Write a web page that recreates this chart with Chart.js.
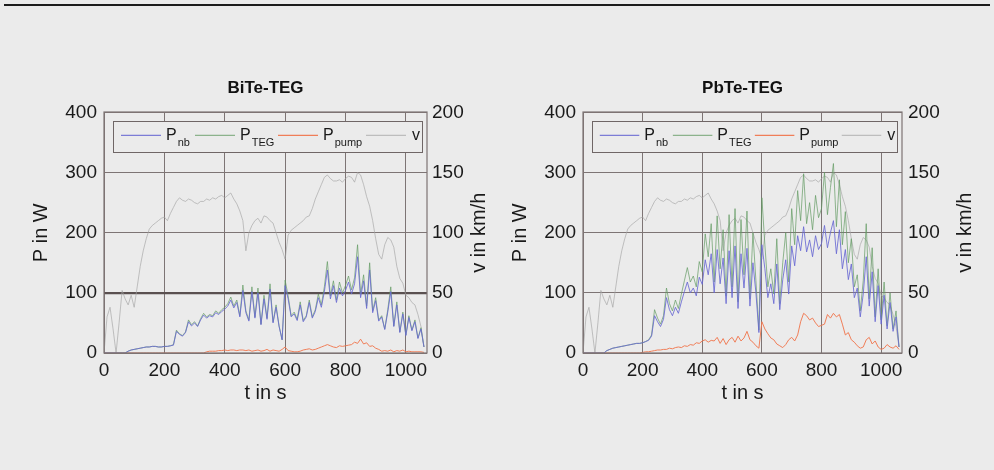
<!DOCTYPE html>
<html>
<head>
<meta charset="utf-8">
<script src="https://cdn.jsdelivr.net/npm/chart.js@4.4.0/dist/chart.umd.min.js"></script>
<style>
  body { margin: 0; background: #ebebeb; }
  #page { position: relative; width: 994px; height: 470px; background: #ebebeb; overflow: hidden; }
  #topline { position: absolute; left: 4px; top: 4px; width: 986px; height: 2px; background: #1c1c1c; }
  canvas { position: absolute; top: 0; }
</style>
</head>
<body>
<div id="page">
  <div id="topline"></div>
  <canvas id="chartBiTe" width="497" height="420" style="left:0px"></canvas>
  <canvas id="chartPbTe" width="497" height="420" style="left:479px"></canvas>
</div>
<script>
// time axis, every 10 s from 0 to 1060 s
const time = [];
for (let s = 0; s <= 1060; s += 10) time.push(s);

// vehicle speed in km/h (same drive cycle for both charts)
const speed = [
  0, 30, 38, 20, 0, 25, 52, 45,
  40, 48, 38, 55, 72, 85, 95, 103, 106, 108, 110, 112, 113, 110, 116, 121,
  126, 129, 127, 126, 128, 127, 125, 124, 126, 126, 128, 127, 129, 128, 130, 131, 129,
  131, 133, 128, 124, 118, 110, 85, 100, 106, 110, 112, 108, 114, 113, 110, 108, 100, 92, 86, 78,
  98, 102, 104, 106, 108, 110, 113, 114, 120, 128, 134, 140, 146, 148, 145, 143, 143, 144, 142, 145,
  147, 146, 142, 150, 148, 140, 130, 122, 110, 95, 82, 78, 90, 96, 94, 88, 72, 62, 58, 48,
  46, 42, 40, 32, 22, 5
];

// BiTe-TEG power in W
const bitePnb = [
  0, 0, 0, 0, 0, 0, 0, 0,
  3, 5, 6, 7, 8, 9, 10, 10, 11, 11, 10, 10, 11, 11, 12, 13,
  36, 31, 28, 34, 52, 45, 50, 44, 55, 63, 58, 62, 60, 67, 64, 69, 73,
  78, 88, 75, 84, 60, 104, 67, 53, 102, 58, 100, 47, 90, 56, 106, 50, 76, 44, 22, 112,
  90, 60, 65, 54, 80, 52, 60, 84, 58, 69, 92, 76, 102, 138, 90, 112, 84, 108, 95, 104,
  118, 98, 115, 160, 92, 120, 74, 138, 67, 87, 53, 60, 39, 68, 102, 44, 80, 34, 65, 29,
  59, 37, 52, 24, 40, 10
];
const bitePteg = [
  0, 0, 0, 0, 0, 0, 0, 0,
  3, 5, 6, 7, 8, 9, 10, 10, 11, 11, 10, 10, 11, 11, 12, 14,
  38, 32, 29, 35, 55, 47, 52, 45, 57, 66, 60, 64, 62, 70, 66, 72, 76,
  82, 93, 78, 88, 62, 113, 70, 55, 110, 60, 108, 48, 96, 58, 115, 52, 80, 45, 22, 121,
  95, 62, 68, 56, 85, 54, 62, 88, 60, 72, 98, 80, 110, 152, 95, 120, 88, 118, 100, 112,
  128, 105, 125, 180, 98, 130, 78, 150, 70, 92, 55, 62, 40, 72, 110, 45, 85, 35, 68, 30,
  62, 38, 55, 25, 42, 10
];
const bitePpump = [
  0, 0, 0, 0, 0, 0, 0, 0, 0, 0, 0, 0, 0, 0, 0, 0, 0,
  0, 0, 0, 0, 0, 0, 0, 0, 0, 0, 0, 0, 0, 0, 0, 0, 0,
  2, 3, 3, 3, 4, 4, 5, 4, 5, 5, 4, 5, 5, 4, 5, 3, 4, 5, 3, 4, 6, 3, 5, 4, 3, 6, 10,
  4, 3, 2, 2, 3, 5, 6, 7, 5, 6, 8, 10, 12, 14, 12, 10, 9, 12, 11, 12,
  13, 14, 18, 16, 23, 15, 17, 11, 12, 8, 6, 3, 4, 3, 5, 2, 4, 3, 5, 2,
  3, 2, 2, 2, 2, 1
];

// PbTe-TEG power in W
const pbtePnb = [
  0, 0, 0, 0, 0, 0, 0, 0,
  4, 6, 8, 9, 10, 11, 12, 13, 14, 15, 16, 16, 17, 19, 21, 28,
  62, 52, 44, 56, 92, 72, 62, 76, 66, 85, 102, 118, 100, 108, 95, 126, 114,
  155, 130, 165, 100, 172, 115, 158, 82, 170, 92, 178, 74, 165, 108, 174, 78, 150, 100, 34, 180,
  140, 92, 115, 82, 148, 72, 122, 155, 98, 178, 145, 195, 170, 210, 168, 188, 160, 195, 172, 182,
  212, 175, 200, 220, 165, 205, 140, 172, 122, 148, 92, 108, 60, 98, 160, 78, 135, 52, 112, 48,
  96, 40, 84, 36, 60, 10
];
const pbtePteg = [
  0, 0, 0, 0, 0, 0, 0, 0,
  4, 6, 8, 9, 10, 11, 12, 13, 14, 15, 16, 16, 17, 19, 22, 30,
  72, 58, 48, 62, 108, 82, 70, 88, 74, 98, 120, 142, 118, 128, 110, 152, 135,
  198, 160, 215, 118, 228, 140, 205, 95, 230, 110, 240, 85, 222, 130, 236, 90, 200, 120, 38, 258,
  180, 110, 140, 98, 190, 82, 150, 200, 118, 240, 180, 270, 220, 298, 215, 250, 205, 262, 225, 240,
  300, 230, 275, 315, 210, 288, 180, 235, 150, 190, 110, 130, 70, 120, 215, 90, 175, 60, 140, 55,
  118, 45, 100, 40, 70, 10
];
const pbtePpump = [
  0, 0, 0, 0, 0, 0, 0, 0, 0, 0, 0, 0, 0, 0, 0, 0, 0, 0, 0, 0,
  1, 2, 2, 3, 4, 5, 5, 6, 6, 8, 7, 9, 10, 9, 12, 11, 14, 13, 17, 16, 20,
  22, 18, 21, 20, 26, 16, 24, 14, 22, 26, 18, 28, 20, 25, 36, 22, 18, 12, 8, 52,
  40, 32, 25, 22, 15, 12, 9, 14, 22, 26, 20, 30, 52, 66, 62, 55, 58, 50, 44, 46,
  48, 64, 58, 66, 60, 64, 48, 30, 34, 22, 18, 12, 8, 10, 22, 26, 15, 20, 10, 6,
  8, 14, 10, 8, 12, 6
];

const powerTicks = [0, 100, 200, 300, 400];
const speedTicks = [0, 50, 100, 150, 200];
const legendMain = ['P', 'P', 'P', 'v'];
const legendSub = ['nb', 'TEG', 'pump', ''];

const FONT = '"Liberation Sans", Arial, Helvetica, sans-serif';
const GRID = '#7d7474';
const colNb = 'rgba(105,105,210,0.85)';
const colTeg = 'rgba(100,155,100,0.7)';
const colPump = 'rgba(240,120,80,0.95)';
const colV = 'rgba(165,165,165,0.65)';

function toPoints(values) {
  return values.map((v, i) => ({ x: time[i], y: v }));
}

// frame, legend with subscripts and the right axis title
const extras = {
  id: 'extras',
  afterDatasetsDraw(chart, args, opts) {
    const ctx = chart.ctx;
    const a = chart.chartArea;
    ctx.save();
    ctx.strokeStyle = GRID;
    ctx.lineWidth = 1.2;
    ctx.strokeRect(Math.round(a.left), Math.round(a.top), Math.round(a.width), Math.round(a.height));

    const sx = a.width / 323;
    const bx = a.left + 9 * sx, by = a.top + 9, bw = a.width - 14 * sx, bh = 31;
    ctx.fillStyle = '#ebebeb';
    ctx.fillRect(bx, by, bw, bh);
    ctx.strokeStyle = '#6f6666';
    ctx.lineWidth = 1;
    ctx.strokeRect(Math.round(bx) + 0.5, Math.round(by) + 0.5, Math.round(bw), bh);

    const lineX = [17, 91, 174, 262];
    const textX = [62, 136, 219, 308];
    const ly = by + 14;
    chart.data.datasets.forEach((ds, i) => {
      ctx.strokeStyle = ds.borderColor;
      ctx.lineWidth = 1.2;
      ctx.beginPath();
      ctx.moveTo(a.left + lineX[i] * sx, ly);
      ctx.lineTo(a.left + (lineX[i] + 40) * sx, ly);
      ctx.stroke();
      ctx.fillStyle = '#1a1a1a';
      ctx.textBaseline = 'alphabetic';
      ctx.textAlign = 'left';
      ctx.font = '16px ' + FONT;
      const tx = a.left + textX[i] * sx;
      ctx.fillText(legendMain[i], tx, ly + 5);
      if (legendSub[i]) {
        const w = ctx.measureText(legendMain[i]).width;
        ctx.font = '11px ' + FONT;
        ctx.fillText(legendSub[i], tx + w + 1, ly + 11);
      }
    });

    ctx.translate(opts.vTitleX, (a.top + a.bottom) / 2);
    ctx.rotate(-Math.PI / 2);
    ctx.fillStyle = '#1a1a1a';
    ctx.font = '20px ' + FONT;
    ctx.textAlign = 'center';
    ctx.textBaseline = 'middle';
    ctx.fillText('v in km/h', 0, 0);
    ctx.restore();
  }
};

function makeChart(id, title, nb, teg, pump, cfg) {
  const ctx = document.getElementById(id);
  return new Chart(ctx, {
    type: 'line',
    data: {
      datasets: [
        { label: 'P_nb', data: toPoints(nb), borderColor: colNb, borderWidth: 1, yAxisID: 'y' },
        { label: 'P_TEG', data: toPoints(teg), borderColor: colTeg, borderWidth: 1, yAxisID: 'y' },
        { label: 'P_pump', data: toPoints(pump), borderColor: colPump, borderWidth: 1, yAxisID: 'y' },
        { label: 'v', data: toPoints(speed), borderColor: colV, borderWidth: 1, yAxisID: 'yV' }
      ]
    },
    options: {
      responsive: false,
      animation: false,
      elements: { point: { radius: 0 }, line: { tension: 0 } },
      layout: { padding: 0 },
      plugins: {
        legend: { display: false },
        tooltip: { enabled: false },
        title: {
          display: true,
          text: title,
          fullSize: false,
          color: '#111',
          font: { family: FONT, size: 17, weight: 'bold' },
          padding: { top: 78, bottom: 14 }
        },
        extras: { vTitleX: cfg.vTitleX }
      },
      scales: {
        x: {
          type: 'linear',
          position: 'bottom',
          min: 0,
          max: 1070,
          afterFit(s) { s.height = 67; },
          border: { display: false },
          grid: { color: GRID, lineWidth: 1, drawTicks: false },
          ticks: {
            stepSize: 200, includeBounds: false, autoSkip: false, maxRotation: 0,
            padding: 6, color: '#1a1a1a', font: { family: FONT, size: 19 },
            callback: (v) => String(v)
          },
          title: {
            display: true, text: 't in s', color: '#1a1a1a',
            font: { family: FONT, size: 20 }, padding: { top: 0, bottom: 15 }
          }
        },
        y: {
          position: 'left',
          min: powerTicks[0],
          max: powerTicks[powerTicks.length - 1],
          afterFit(s) { s.width = 104; },
          border: { display: false },
          grid: {
            drawTicks: false,
            color: (c) => (cfg.thick100 && c.tick && c.tick.value === 100) ? '#5a5050' : GRID,
            lineWidth: (c) => (cfg.thick100 && c.tick && c.tick.value === 100) ? 2.2 : 1
          },
          ticks: {
            stepSize: 100, padding: 7, color: '#1a1a1a', font: { family: FONT, size: 19 },
            callback: (v) => String(v)
          },
          title: {
            display: true, text: 'P in W', color: '#1a1a1a',
            font: { family: FONT, size: 20 }, padding: { top: 29, bottom: 0 }
          }
        },
        yV: {
          position: 'right',
          min: speedTicks[0],
          max: speedTicks[speedTicks.length - 1],
          afterFit(s) { s.width = cfg.rightWidth; },
          border: { display: false },
          grid: { display: false, drawTicks: false },
          ticks: {
            stepSize: 50, padding: cfg.rightPad, color: '#1a1a1a', font: { family: FONT, size: 19 },
            callback: (v) => String(v)
          }
        }
      }
    },
    plugins: [extras]
  });
}

makeChart('chartBiTe', 'BiTe-TEG', bitePnb, bitePteg, bitePpump,
  { rightWidth: 70, rightPad: 5, vTitleX: 479, thick100: true });
makeChart('chartPbTe', 'PbTe-TEG', pbtePnb, pbtePteg, pbtePpump,
  { rightWidth: 74, rightPad: 6, vTitleX: 486, thick100: false });
</script>
</body>
</html>
